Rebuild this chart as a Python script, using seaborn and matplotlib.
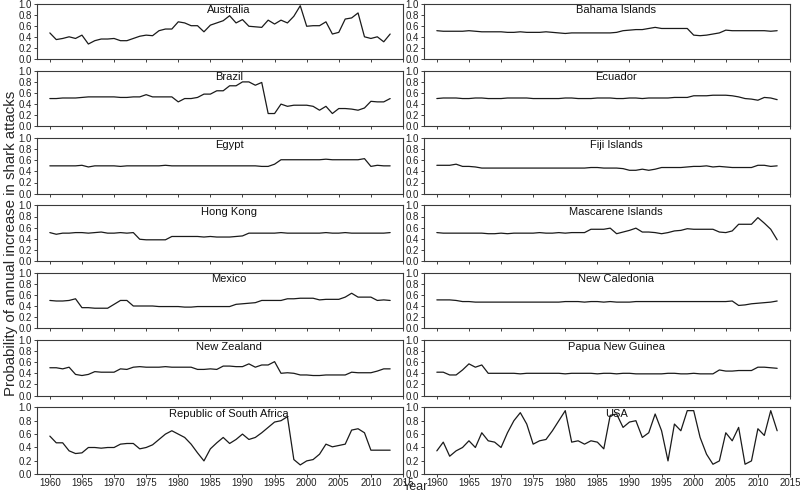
import matplotlib
matplotlib.use("Agg")
import matplotlib.pyplot as plt
import seaborn as sns
import pandas as pd
from matplotlib.ticker import FormatStrFormatter

years = list(range(1960, 2014))

australia = [0.47,0.35,0.37,0.40,0.37,0.43,0.27,0.33,0.36,0.36,
             0.37,0.33,0.33,0.37,0.41,0.43,0.42,0.51,0.54,0.54,
             0.67,0.65,0.60,0.60,0.49,0.61,0.65,0.69,0.78,0.65,
             0.71,0.59,0.58,0.57,0.70,0.63,0.70,0.65,0.77,0.96,
             0.59,0.60,0.60,0.67,0.45,0.48,0.72,0.74,0.83,0.40,
             0.37,0.40,0.31,0.45]
bahama = [0.51,0.50,0.50,0.50,0.50,0.51,0.50,0.49,0.49,0.49,
          0.49,0.48,0.48,0.49,0.48,0.48,0.48,0.49,0.48,0.47,
          0.46,0.47,0.47,0.47,0.47,0.47,0.47,0.47,0.48,0.51,
          0.52,0.53,0.53,0.55,0.57,0.55,0.55,0.55,0.55,0.55,
          0.43,0.42,0.43,0.45,0.47,0.52,0.51,0.51,0.51,0.51,
          0.51,0.51,0.50,0.51]
brazil = [0.50,0.50,0.51,0.51,0.51,0.52,0.53,0.53,0.53,0.53,
          0.53,0.52,0.52,0.53,0.53,0.57,0.53,0.53,0.53,0.53,
          0.44,0.50,0.50,0.52,0.58,0.58,0.64,0.64,0.73,0.73,
          0.80,0.80,0.74,0.79,0.23,0.23,0.40,0.36,0.38,0.38,
          0.38,0.36,0.29,0.36,0.23,0.32,0.32,0.31,0.29,0.33,
          0.45,0.44,0.44,0.50]
ecuador = [0.50,0.51,0.51,0.51,0.50,0.50,0.51,0.51,0.50,0.50,
           0.50,0.51,0.51,0.51,0.51,0.50,0.50,0.50,0.50,0.50,
           0.51,0.51,0.50,0.50,0.50,0.51,0.51,0.51,0.50,0.50,
           0.51,0.51,0.50,0.51,0.51,0.51,0.51,0.52,0.52,0.52,
           0.55,0.55,0.55,0.56,0.56,0.56,0.55,0.53,0.50,0.49,
           0.47,0.52,0.51,0.48]
egypt = [0.50,0.50,0.50,0.50,0.50,0.51,0.48,0.50,0.50,0.50,
         0.50,0.49,0.50,0.50,0.50,0.50,0.50,0.50,0.51,0.50,
         0.50,0.50,0.50,0.50,0.50,0.50,0.50,0.50,0.50,0.50,
         0.50,0.50,0.50,0.49,0.49,0.53,0.61,0.61,0.61,0.61,
         0.61,0.61,0.61,0.62,0.61,0.61,0.61,0.61,0.61,0.63,
         0.49,0.51,0.50,0.50]
fiji = [0.51,0.51,0.51,0.53,0.49,0.49,0.48,0.46,0.46,0.46,
        0.46,0.46,0.46,0.46,0.46,0.46,0.46,0.46,0.46,0.46,
        0.46,0.46,0.46,0.46,0.47,0.47,0.46,0.46,0.46,0.45,
        0.42,0.42,0.44,0.42,0.44,0.47,0.47,0.47,0.47,0.48,
        0.49,0.49,0.50,0.48,0.49,0.48,0.47,0.47,0.47,0.47,
        0.51,0.51,0.49,0.50]
hong_kong = [0.51,0.48,0.50,0.50,0.51,0.51,0.50,0.51,0.52,0.50,
             0.50,0.51,0.50,0.51,0.39,0.38,0.38,0.38,0.38,0.44,
             0.44,0.44,0.44,0.44,0.43,0.44,0.43,0.43,0.43,0.44,
             0.45,0.50,0.50,0.50,0.50,0.50,0.51,0.50,0.50,0.50,
             0.50,0.50,0.50,0.51,0.50,0.50,0.51,0.50,0.50,0.50,
             0.50,0.50,0.50,0.51]
mascarene = [0.51,0.50,0.50,0.50,0.50,0.50,0.50,0.50,0.49,0.49,
             0.50,0.49,0.50,0.50,0.50,0.50,0.51,0.50,0.50,0.51,
             0.50,0.51,0.51,0.51,0.57,0.57,0.57,0.59,0.49,0.52,
             0.55,0.59,0.52,0.52,0.51,0.49,0.51,0.54,0.55,0.58,
             0.57,0.57,0.57,0.57,0.52,0.51,0.54,0.66,0.66,0.66,
             0.78,0.68,0.57,0.38]
mexico = [0.50,0.49,0.49,0.50,0.53,0.37,0.37,0.36,0.36,0.36,
          0.43,0.50,0.50,0.40,0.40,0.40,0.40,0.39,0.39,0.39,
          0.39,0.38,0.38,0.39,0.39,0.39,0.39,0.39,0.39,0.43,
          0.44,0.45,0.46,0.50,0.50,0.50,0.50,0.53,0.53,0.54,
          0.54,0.54,0.51,0.52,0.52,0.52,0.56,0.63,0.56,0.56,
          0.56,0.50,0.51,0.50]
new_caledonia = [0.51,0.51,0.51,0.50,0.48,0.48,0.47,0.47,0.47,0.47,
                 0.47,0.47,0.47,0.47,0.47,0.47,0.47,0.47,0.47,0.47,
                 0.48,0.48,0.48,0.47,0.48,0.48,0.47,0.48,0.47,0.47,
                 0.47,0.48,0.48,0.48,0.48,0.48,0.48,0.48,0.48,0.48,
                 0.48,0.48,0.48,0.48,0.48,0.48,0.49,0.41,0.42,0.44,
                 0.45,0.46,0.47,0.49]
new_zealand = [0.50,0.50,0.48,0.51,0.38,0.36,0.38,0.43,0.42,0.42,
               0.42,0.48,0.47,0.51,0.52,0.51,0.51,0.51,0.52,0.51,
               0.51,0.51,0.51,0.47,0.47,0.48,0.47,0.53,0.53,0.52,
               0.52,0.57,0.51,0.55,0.55,0.61,0.40,0.41,0.40,0.37,
               0.37,0.36,0.36,0.37,0.37,0.37,0.37,0.42,0.41,0.41,
               0.41,0.44,0.48,0.48]
papua_new_guinea = [0.42,0.42,0.37,0.37,0.46,0.57,0.51,0.55,0.40,0.40,
                    0.40,0.40,0.40,0.39,0.40,0.40,0.40,0.40,0.40,0.40,
                    0.39,0.40,0.40,0.40,0.40,0.39,0.40,0.40,0.39,0.40,
                    0.40,0.39,0.39,0.39,0.39,0.39,0.40,0.40,0.39,0.39,
                    0.40,0.39,0.39,0.39,0.46,0.44,0.44,0.45,0.45,0.45,
                    0.51,0.51,0.50,0.49]
south_africa = [0.57,0.47,0.47,0.35,0.31,0.32,0.40,0.40,0.39,0.40,
                0.40,0.45,0.46,0.46,0.38,0.40,0.44,0.52,0.60,0.65,
                0.60,0.55,0.45,0.32,0.20,0.38,0.47,0.55,0.46,0.52,
                0.60,0.52,0.55,0.62,0.70,0.78,0.80,0.86,0.22,0.14,
                0.20,0.22,0.30,0.45,0.41,0.43,0.45,0.66,0.68,0.62,
                0.36,0.36,0.36,0.36]
usa = [0.35,0.48,0.27,0.35,0.40,0.50,0.40,0.62,0.50,0.48,
       0.40,0.62,0.80,0.92,0.75,0.45,0.50,0.52,0.65,0.80,
       0.95,0.48,0.50,0.45,0.50,0.48,0.38,0.88,0.90,0.70,
       0.78,0.80,0.55,0.62,0.90,0.65,0.20,0.75,0.65,0.95,
       0.95,0.55,0.30,0.15,0.20,0.62,0.50,0.70,0.15,0.20,
       0.68,0.58,0.95,0.65]

titles = ["Australia", "Bahama Islands", "Brazil", "Ecuador", "Egypt",
          "Fiji Islands", "Hong Kong", "Mascarene Islands", "Mexico",
          "New Caledonia", "New Zealand", "Papua New Guinea",
          "Republic of South Africa", "USA"]
series = [australia, bahama, brazil, ecuador, egypt, fiji, hong_kong,
          mascarene, mexico, new_caledonia, new_zealand, papua_new_guinea,
          south_africa, usa]

df = pd.DataFrame({"Year": years})
for t, s in zip(titles, series):
    df[t] = s

sns.set_style("ticks")
plt.rcParams["font.family"] = ["Liberation Sans", "DejaVu Sans"]

W, H = 800, 493
fig = plt.figure(figsize=(W / 100, H / 100), dpi=100)

col_x = [(37, 403), (424, 790)]
top0, pitch = 3.5, 67.3

for i, (t, s) in enumerate(zip(titles, series)):
    r, c = divmod(i, 2)
    x0, x1 = col_x[c]
    top = top0 + r * pitch
    h = 55.5 if r < 6 else 67
    ax = fig.add_axes([x0 / W, 1 - (top + h) / H, (x1 - x0) / W, h / H])
    sns.lineplot(data=df, x="Year", y=t, ax=ax, color="#1a1a1a", linewidth=0.9)
    ax.set_xlim(1958, 2015)
    ax.set_ylim(0, 1.0)
    ax.set_xticks(list(range(1960, 2016, 5)))
    ax.set_yticks([0.0, 0.2, 0.4, 0.6, 0.8, 1.0])
    ax.yaxis.set_major_formatter(FormatStrFormatter("%.1f"))
    ax.set_xlabel("")
    ax.set_ylabel("")
    for sp in ax.spines.values():
        sp.set_visible(True)
        sp.set_color("#3a3a3a")
        sp.set_linewidth(0.8)
    ax.tick_params(axis="both", direction="out", length=2.5, width=0.6,
                   labelsize=7, pad=1, colors="#222222")
    ax.tick_params(axis="x", pad=0.5)
    if r < 6:
        ax.tick_params(axis="x", labelbottom=False)
    ax.text(0.525, 1 - 6.5 / h, t, transform=ax.transAxes, ha="center",
            va="center", fontsize=8, color="#111111")

fig.text(11 / W, 1 - 243 / H, "Probability of annual increase in shark attacks",
         rotation=90, ha="center", va="center", fontsize=10.8)
fig.text(415 / W, 1 - 492.8 / H, "Year", ha="center", va="bottom", fontsize=9)

fig.savefig("out.png", dpi=100)
